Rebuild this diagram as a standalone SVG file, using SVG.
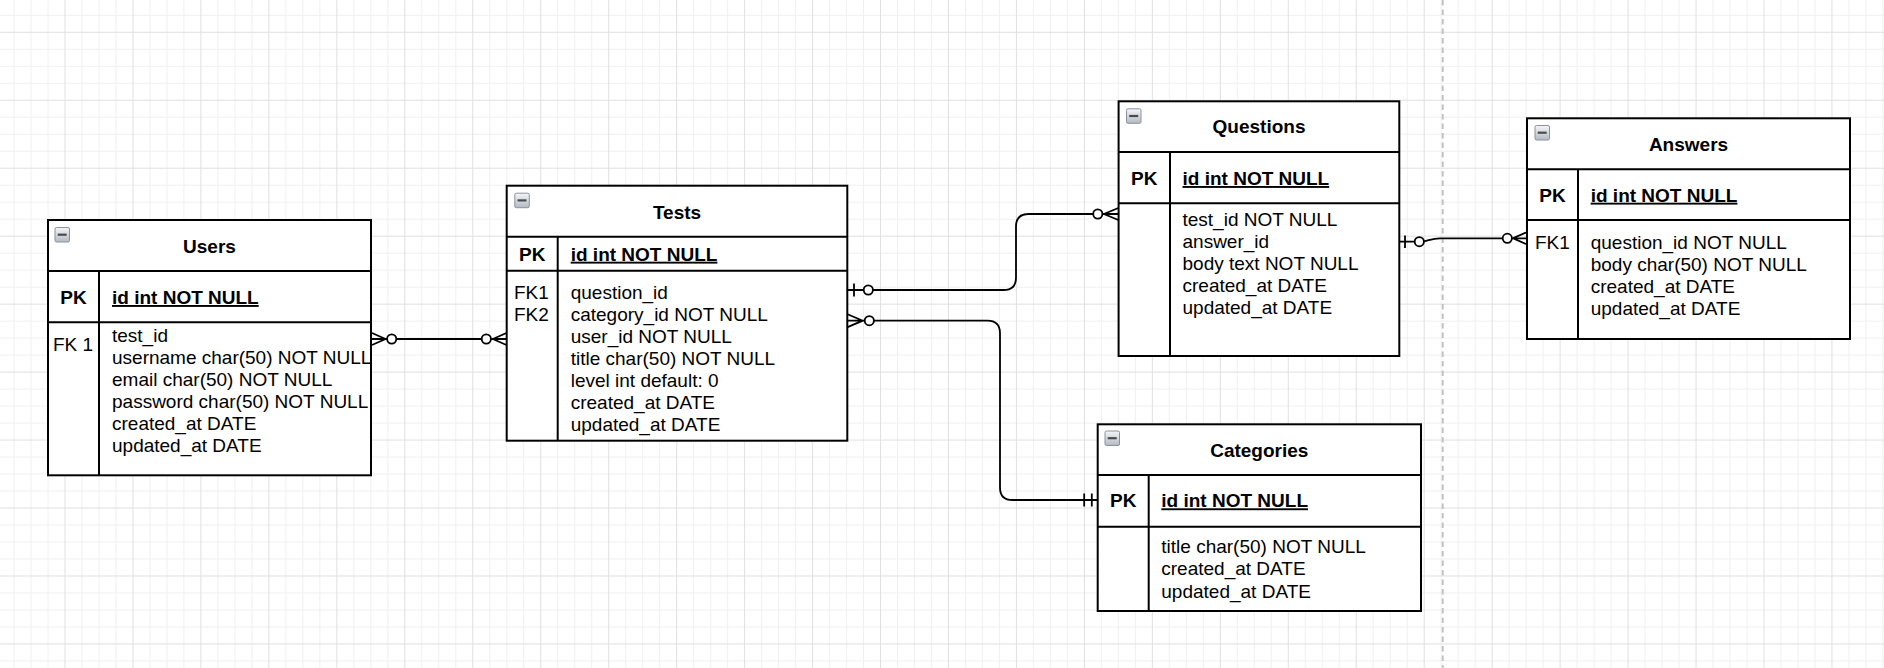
<svg xmlns="http://www.w3.org/2000/svg" width="1884" height="668" viewBox="0 0 1884 668">
<defs>
<style>
.box{fill:#fff;stroke:#000;stroke-width:2}
.ln{fill:none;stroke:#000;stroke-width:2}
.t{font-family:"Liberation Sans",Arial,Helvetica,sans-serif;font-size:19px;fill:#000}
.b{font-weight:bold}
.c{text-anchor:middle}
.u{text-decoration:underline}
.conn{fill:none;stroke:#000;stroke-width:1.8}
.dot{fill:#fff;stroke:#000;stroke-width:1.8}
.minor{stroke:#f0f0f0;stroke-width:1}
.major{stroke:#e0e0e0;stroke-width:1}
</style>
<linearGradient id="tg" x1="0" y1="0" x2="0" y2="1">
<stop offset="0" stop-color="#f4f6f9"/>
<stop offset="1" stop-color="#b4bac3"/>
</linearGradient>
<g id="tog">
<rect x="0.5" y="0.5" width="14.5" height="14.5" rx="1.5" fill="url(#tg)" stroke="#8a929c" stroke-width="1"/>
<rect x="3.2" y="6.6" width="9" height="2.2" fill="#4b4b4b"/>
</g>
<pattern id="grid" x="64.5" y="31.8" width="67.96" height="67.96" patternUnits="userSpaceOnUse">
<path class="minor" d="M17.49 0V67.96M34.48 0V67.96M51.47 0V67.96M0 17.49H67.96M0 34.48H67.96M0 51.47H67.96"/>
<path class="major" d="M0.5 0V67.96M0 0.5H67.96"/>
</pattern>
</defs>
<rect width="1884" height="668" fill="#fff"/>
<rect width="1884" height="668" fill="url(#grid)"/>
<line x1="1442.7" y1="0" x2="1442.7" y2="668" stroke="#c2c2c2" stroke-width="2" stroke-dasharray="5.5 4"/>

<g id="users">
<rect class="box" x="48" y="220" width="323" height="255.3"/>
<path class="ln" d="M48 271H371M48 322.3H371M99 271V475.3"/>
<use href="#tog" x="54.5" y="227"/>
<text class="t b c" x="209.5" y="253">Users</text>
<text class="t b c" x="73.5" y="304">PK</text>
<text class="t b u" x="112" y="304">id int NOT NULL</text>
<text class="t" x="53" y="351">FK 1</text>
<text class="t" x="112" y="342">test_id</text>
<text class="t" x="112" y="364">username char(50) NOT NULL</text>
<text class="t" x="112" y="386">email char(50) NOT NULL</text>
<text class="t" x="112" y="408">password char(50) NOT NULL</text>
<text class="t" x="112" y="430">created_at DATE</text>
<text class="t" x="112" y="452">updated_at DATE</text>
</g>

<g id="tests">
<rect class="box" x="506.7" y="185.7" width="340.6" height="255"/>
<path class="ln" d="M506.7 236.7H847.3M506.7 270.7H847.3M557.7 236.7V440.7"/>
<use href="#tog" x="514.3" y="192.7"/>
<text class="t b c" x="677" y="219">Tests</text>
<text class="t b c" x="532.2" y="260.7">PK</text>
<text class="t b u" x="570.7" y="260.7">id int NOT NULL</text>
<text class="t" x="514" y="299.3">FK1</text>
<text class="t" x="514" y="321.3">FK2</text>
<text class="t" x="570.7" y="299.3">question_id</text>
<text class="t" x="570.7" y="321.2">category_id NOT NULL</text>
<text class="t" x="570.7" y="343.1">user_id NOT NULL</text>
<text class="t" x="570.7" y="365">title char(50) NOT NULL</text>
<text class="t" x="570.7" y="386.9">level int default: 0</text>
<text class="t" x="570.7" y="408.8">created_at DATE</text>
<text class="t" x="570.7" y="430.7">updated_at DATE</text>
</g>

<g id="questions">
<rect class="box" x="1118.6" y="101.3" width="280.7" height="254.7"/>
<path class="ln" d="M1118.6 152H1399.3M1118.6 203.3H1399.3M1170 152V356"/>
<use href="#tog" x="1126" y="108.3"/>
<text class="t b c" x="1259" y="133.3">Questions</text>
<text class="t b c" x="1144.3" y="185">PK</text>
<text class="t b u" x="1182.5" y="185">id int NOT NULL</text>
<text class="t" x="1182.5" y="225.7">test_id NOT NULL</text>
<text class="t" x="1182.5" y="247.7">answer_id</text>
<text class="t" x="1182.5" y="269.7">body text NOT NULL</text>
<text class="t" x="1182.5" y="291.7">created_at DATE</text>
<text class="t" x="1182.5" y="313.7">updated_at DATE</text>
</g>

<g id="answers">
<rect class="box" x="1527" y="118.3" width="323" height="220.7"/>
<path class="ln" d="M1527 169.3H1850M1527 220H1850M1578 169.3V339"/>
<use href="#tog" x="1534.5" y="125"/>
<text class="t b c" x="1688.5" y="150.7">Answers</text>
<text class="t b c" x="1552.5" y="201.7">PK</text>
<text class="t b u" x="1590.7" y="201.7">id int NOT NULL</text>
<text class="t" x="1535" y="248.5">FK1</text>
<text class="t" x="1590.7" y="248.7">question_id NOT NULL</text>
<text class="t" x="1590.7" y="270.7">body char(50) NOT NULL</text>
<text class="t" x="1590.7" y="292.7">created_at DATE</text>
<text class="t" x="1590.7" y="314.7">updated_at DATE</text>
</g>

<g id="categories">
<rect class="box" x="1097.7" y="424.3" width="323.3" height="186.7"/>
<path class="ln" d="M1097.7 475H1421M1097.7 526.7H1421M1148.7 475V611"/>
<use href="#tog" x="1104.5" y="430.5"/>
<text class="t b c" x="1259.3" y="456.7">Categories</text>
<text class="t b c" x="1123.2" y="507.3">PK</text>
<text class="t b u" x="1161.3" y="507.3">id int NOT NULL</text>
<text class="t" x="1161.3" y="553.3">title char(50) NOT NULL</text>
<text class="t" x="1161.3" y="575.3">created_at DATE</text>
<text class="t" x="1161.3" y="597.5">updated_at DATE</text>
</g>

<g id="connectors">
<!-- Users - Tests -->
<path class="conn" d="M371.7 339H506.7M372 333L385.5 339L372 345M506.4 333L493 339L506.4 345"/>
<circle class="dot" cx="391.7" cy="339" r="4.6"/>
<circle class="dot" cx="486.3" cy="339" r="4.6"/>
<!-- Tests - Questions -->
<path class="conn" d="M846.7 290H1003.4Q1016 290 1016 277.4V226.6Q1016 214 1028.6 214H1118.6M854 283.6V296.4M1118.3 208L1104 214L1118.3 220"/>
<circle class="dot" cx="868.3" cy="290" r="4.6"/>
<circle class="dot" cx="1097.8" cy="214" r="4.6"/>
<!-- Tests - Categories -->
<path class="conn" d="M846.7 320.7H987.4Q1000 320.7 1000 333.3V487.4Q1000 500 1012.6 500H1097.7M847 314L862.7 320.7L847 327.4M1084.2 493.6V506.4M1091.8 493.6V506.4"/>
<circle class="dot" cx="869.3" cy="320.7" r="4.6"/>
<!-- Questions - Answers -->
<path class="conn" d="M1399.3 241.7H1420C1428 241.7 1430 238.3 1440 238.3H1527M1405 235.5V247.9M1526.7 232.3L1513 238.3L1526.7 244.3"/>
<circle class="dot" cx="1419.3" cy="241.7" r="4.6"/>
<circle class="dot" cx="1507.3" cy="238.3" r="4.6"/>
</g>
</svg>
